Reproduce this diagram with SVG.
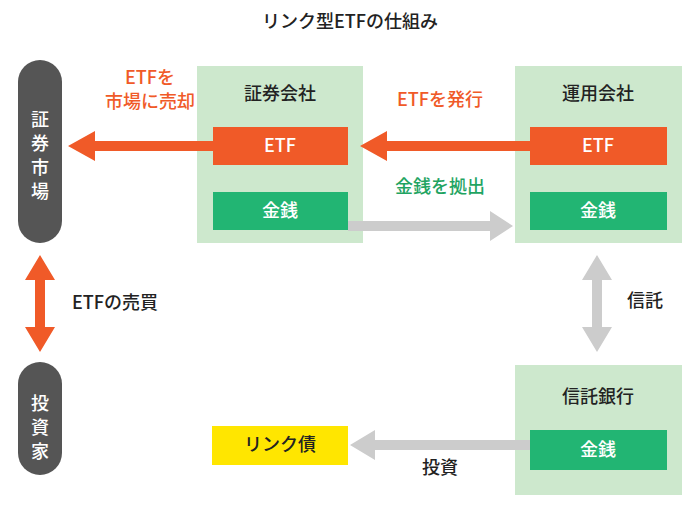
<svg xmlns="http://www.w3.org/2000/svg" width="700" height="507" viewBox="0 0 700 507">
<style>
text{font-family:"Noto Sans CJK JP","Noto Sans",sans-serif;font-weight:500}
.t{font-size:18px;fill:#222;text-anchor:middle}
.w{font-size:18px;fill:#fff;text-anchor:middle}
.o{font-size:18px;fill:#f05a28;text-anchor:middle}
.g{font-size:18px;fill:#1fa462;text-anchor:middle}
.panel{fill:#cde8cd}
.etf{fill:#f05a28}
.money{fill:#22b573}
.pill{fill:#555}
</style>
<rect width="700" height="507" fill="#fff"/>
<text x="350" y="28" class="t" font-size="20">リンク型ETFの仕組み</text>
<g id="market"><rect class="pill" x="18" y="60" width="44" height="183" rx="22"/>
<text class="w" font-size="20" x="40" y="126">証</text><text class="w" font-size="20" x="40" y="150">券</text><text class="w" font-size="20" x="40" y="174">市</text><text class="w" font-size="20" x="40" y="198">場</text></g>
<g id="investor"><rect class="pill" x="18" y="362" width="44" height="113" rx="22"/>
<text class="w" font-size="20" x="40" y="410">投</text><text class="w" font-size="20" x="40" y="434">資</text><text class="w" font-size="20" x="40" y="458">家</text></g>
<g id="securities"><rect class="panel" x="197" y="66" width="166" height="177"/>
<text class="t" x="280" y="100">証券会社</text>
<rect class="etf" x="213" y="127" width="135" height="38"/><text class="w" x="280" y="152">ETF</text>
<rect class="money" x="213" y="192" width="135" height="38"/><text class="w" x="280" y="217">金銭</text></g>
<g id="manager"><rect class="panel" x="515" y="66" width="167" height="177"/>
<text class="t" x="598" y="100">運用会社</text>
<rect class="etf" x="530" y="127" width="137" height="38"/><text class="w" x="598" y="152">ETF</text>
<rect class="money" x="530" y="192" width="137" height="38"/><text class="w" x="598" y="217">金銭</text></g>
<g id="trust"><rect class="panel" x="515" y="365" width="167" height="130"/>
<text class="t" x="598" y="403">信託銀行</text>
<rect class="money" x="530" y="430" width="137" height="40"/><text class="w" x="598" y="456">金銭</text></g>
<g id="bond"><rect fill="#ffe600" x="212" y="426" width="136" height="39"/><text class="t" x="280" y="451">リンク債</text></g>
<g id="connectors">
<polygon fill="#f05a28" points="213,141 95,141 95,131 68,146 95,161 95,151 213,151"/>
<polygon fill="#f05a28" points="530,141 387,141 387,131 360,146 387,161 387,151 530,151"/>
<polygon fill="#ccc" points="348,221 490,221 490,211 513,226 490,241 490,231 348,231"/>
<polygon fill="#ccc" points="592,280 582,280 597,255 612,280 602,280 602,327 612,327 597,352 582,327 592,327"/>
<polygon fill="#ccc" points="530,440 375,440 375,430 350,445 375,460 375,450 530,450"/>
<polygon fill="#f05a28" points="35,280 25,280 40,255 55,280 45,280 45,327 55,327 40,352 25,327 35,327"/>
</g>
<text class="o" x="150" y="84">ETFを</text><text class="o" x="150" y="108">市場に売却</text>
<text class="o" x="440" y="106">ETFを発行</text>
<text class="g" x="440" y="193">金銭を拠出</text>
<text class="t" x="645" y="307">信託</text>
<text class="t" x="440" y="474">投資</text>
<text class="t" x="115" y="309">ETFの売買</text>
</svg>
